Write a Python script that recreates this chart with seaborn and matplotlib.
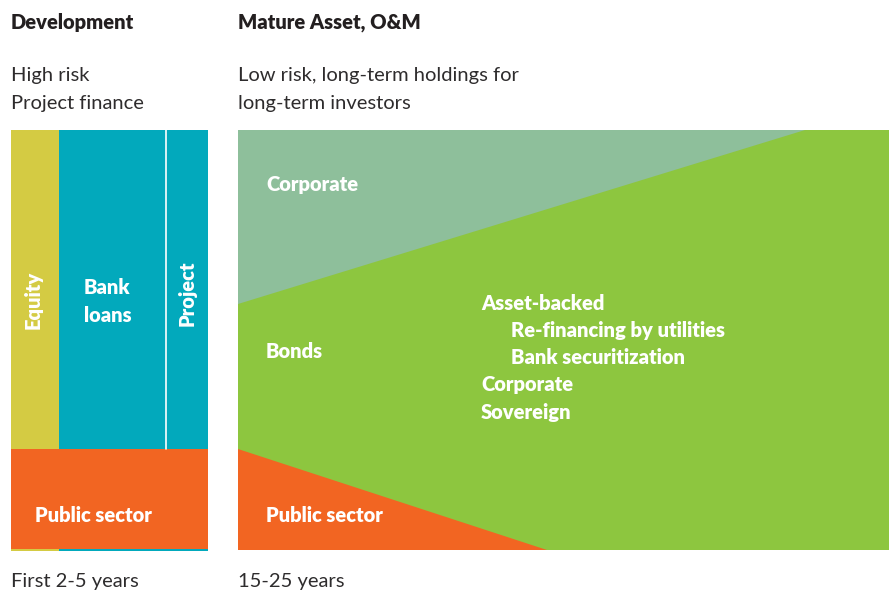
import matplotlib
matplotlib.use("Agg")
import matplotlib.pyplot as plt
import seaborn as sns

# Diagram data (pixel-like units of the layout, y grows downward)
dev_span = [11, 208]            # development stage, x extent
dev_split = [59, 166]           # boundaries Equity | Bank loans | Project
dev_public_top = 449            # public sector takes the bottom of development
mature_span = [238, 889]        # mature asset stage, x extent
block_top, block_bottom = 130, 550
corp_top_right = 805            # where corporate wedge meets the top edge
corp_left_bottom = 304          # where corporate wedge meets the left edge
public_left_top = 449           # public sector wedge on the left edge
public_bottom_right = 547       # public sector wedge meets the bottom edge

bond_types = ["Asset-backed", "Re-financing by utilities", "Bank securitization",
              "Corporate", "Sovereign"]
bond_indent = [0, 1, 1, 0, 0]

colors = {"equity": "#D4CB43", "bank": "#02A9BC", "public": "#F26522",
          "bonds": "#8DC63F", "corporate": "#8EBF9B"}

sns.set_theme(style="white")
plt.rcParams["font.family"] = ["Lato", "DejaVu Sans"]

fig = plt.figure(figsize=(8.9, 5.91), dpi=100)
ax = fig.add_axes([0, 0, 1, 1])
ax.set_xlim(0, 890)
ax.set_ylim(591, 0)
ax.axis("off")

# Development block
x0, x1 = dev_span
ax.fill_between([x0, dev_split[0]], block_top, block_bottom + 1, color=colors["equity"], lw=0)
ax.fill_between([dev_split[0], x1], block_top, block_bottom + 1, color=colors["bank"], lw=0)
ax.plot([dev_split[1], dev_split[1]], [block_top, dev_public_top], color="white", lw=1.2)
ax.fill_between([x0, x1], dev_public_top, block_bottom - 1, color=colors["public"], lw=0)

# Mature asset block
m0, m1 = mature_span
ax.fill_between([m0, m1], block_top, block_bottom, color=colors["bonds"], lw=0)
ax.fill([m0, corp_top_right, m0], [block_top, block_top, corp_left_bottom],
        color=colors["corporate"], lw=0)
ax.fill([m0, m0, public_bottom_right], [public_left_top, block_bottom, block_bottom],
        color=colors["public"], lw=0)

fs = 14.5
dark = "#231F20"
head = dict(fontsize=fs, fontweight="heavy", color=dark, va="center")
body = dict(fontsize=fs, color="#2E2C2D", va="center")
ax.text(11, 22, "Development", **head)
ax.text(238, 22, "Mature Asset, O&M", **head)
ax.text(11, 76, "High risk", **body)
ax.text(11, 104, "Project finance", **body)
ax.text(238, 76, "Low risk, long-term holdings for", **body)
ax.text(238, 104, "long-term investors", **body)
ax.text(11, 581.5, "First 2-5 years", **body)
ax.text(238, 581.5, "15-25 years", **body)

lab = dict(fontsize=fs, fontweight="heavy", color="white", va="center")
ax.text(33, 300, "Equity", rotation=90, ha="center", **lab)
ax.text(84, 288, "Bank", **lab)
ax.text(84, 315, "loans", **lab)
ax.text(187, 293, "Project", rotation=90, ha="center", **lab)
ax.text(35, 516, "Public sector", **lab)
ax.text(266, 184, "Corporate", **lab)
ax.text(266, 351, "Bonds", **lab)
ax.text(266, 516, "Public sector", **lab)

for i, (name, ind) in enumerate(zip(bond_types, bond_indent)):
    ax.text(481 + 30 * ind, 303 + 27.3 * i, name, **lab)

fig.savefig("out.png", dpi=100)
